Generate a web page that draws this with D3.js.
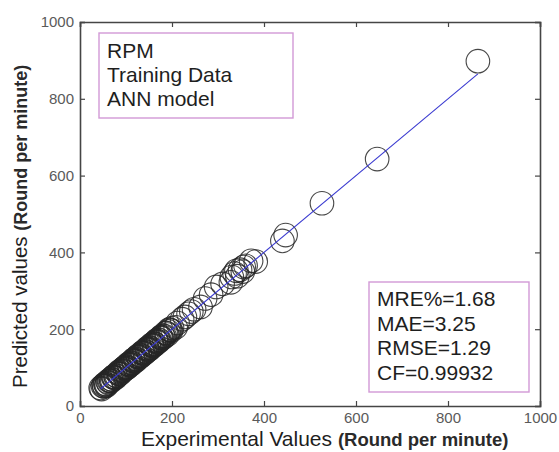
<!DOCTYPE html>
<html>
<head>
<meta charset="utf-8">
<script src="https://cdn.jsdelivr.net/npm/d3@7"></script>
<style>
  html, body { margin: 0; padding: 0; background: #fff; }
  svg { display: block; font-family: "Liberation Sans", Arial, sans-serif; }
</style>
</head>
<body>
<svg id="chart" width="559" height="452"></svg>
<script>
// Experimental vs. ANN-predicted speed (round per minute), training set
const experimental = [
  45, 47, 50, 53, 55, 58, 60, 62, 65, 67,
  70, 72, 75, 77, 80, 82, 85, 88, 90, 93,
  95, 98, 100, 103, 105, 108, 110, 113, 115, 118,
  120, 123, 125, 128, 130, 133, 135, 138, 140, 143,
  145, 148, 150, 153, 155, 158, 160, 163, 165, 168,
  170, 173, 175, 178, 180, 184, 188, 192, 196, 200,
  208, 222, 236, 248, 262, 272, 285, 296, 310, 328,
  336, 342, 348, 354, 360, 372, 382, 440, 447, 526,
  646, 865,
  52, 57, 63, 68, 73, 78, 84, 87, 92, 97,
  101, 106, 111, 116, 121, 126, 131, 136, 141, 146,
  151, 156, 161, 166, 171, 176, 182, 186, 190, 194,
  198, 212, 228, 242, 330, 340, 356
];
const predicted = [
  47, 44, 52, 51, 58, 56, 63, 60, 66, 70,
  68, 75, 73, 80, 78, 85, 83, 90, 93, 91,
  98, 96, 103, 100, 108, 106, 113, 111, 118, 116,
  123, 121, 128, 126, 133, 131, 138, 136, 143, 141,
  148, 146, 153, 151, 158, 156, 163, 161, 168, 166,
  173, 171, 178, 176, 183, 182, 190, 194, 198, 203,
  205, 226, 240, 252, 258, 280, 290, 310, 318, 322,
  345, 338, 355, 350, 365, 378, 376, 430, 445, 528,
  643, 898,
  55, 53, 66, 65, 76, 74, 88, 84, 95, 100,
  99, 110, 108, 120, 118, 130, 128, 140, 138, 150,
  148, 160, 158, 170, 168, 180, 179, 190, 186, 199,
  196, 216, 232, 246, 336, 352, 362
];
const xTicks = [0, 200, 400, 600, 800, 1000];
const yTicks = [0, 200, 400, 600, 800, 1000];
const infoLines = ["RPM", "Training Data", "ANN model"];
const statLines = ["MRE%=1.68", "MAE=3.25", "RMSE=1.29", "CF=0.99932"];

const svg = d3.select("#chart");
const plotL = 80, plotR = 540, plotT = 22, plotB = 406;

const x = d3.scaleLinear().domain([0, 1000]).range([plotL, plotR]);
const y = d3.scaleLinear().domain([0, 1000]).range([plotB, plotT]);

const axisColor = "#454545";
const tickColor = "#5a5a5a";

// axes (ticks point inward, box on all four sides)
const gx = svg.append("g").attr("transform", `translate(0,${plotB})`)
  .call(d3.axisBottom(x).tickValues(xTicks).tickSize(-5).tickPadding(6).tickFormat(d3.format("d")));
const gy = svg.append("g").attr("transform", `translate(${plotL},0)`)
  .call(d3.axisLeft(y).tickValues(yTicks).tickSize(-5).tickPadding(6).tickFormat(d3.format("d")));
const gt = svg.append("g").attr("transform", `translate(0,${plotT})`)
  .call(d3.axisTop(x).tickValues(xTicks).tickSize(-5).tickFormat(""));
const gr = svg.append("g").attr("transform", `translate(${plotR},0)`)
  .call(d3.axisRight(y).tickValues(yTicks).tickSize(-5).tickFormat(""));

[gx, gy, gt, gr].forEach(g => {
  g.select(".domain").attr("stroke", axisColor).attr("stroke-width", 1.6);
  g.selectAll(".tick line").attr("stroke", axisColor).attr("stroke-width", 1.2);
  g.selectAll(".tick text").attr("fill", tickColor)
    .style("font-size", "15px").style("font-family", "'Liberation Sans', Arial, sans-serif");
});

// data points
const pts = d3.zip(experimental, predicted);
svg.append("g").selectAll("circle").data(pts).join("circle")
  .attr("cx", d => x(d[0])).attr("cy", d => y(d[1]))
  .attr("r", 11.8)
  .attr("fill", "none")
  .attr("stroke", "#262626")
  .attr("stroke-width", 1.1)
  .attr("stroke-opacity", 0.85);

// ideal line y = x over the experimental range
const ext = d3.extent(experimental);
svg.append("line")
  .attr("x1", x(ext[0])).attr("y1", y(ext[0]))
  .attr("x2", x(ext[1])).attr("y2", y(ext[1]))
  .attr("stroke", "#3a3ad0").attr("stroke-width", 1.1);

// text boxes
const boxColor = "#d299d6";
svg.append("rect").attr("x", 99).attr("y", 33).attr("width", 194).attr("height", 85)
  .attr("fill", "#fff").attr("stroke", boxColor).attr("stroke-width", 1.4);
svg.append("g").selectAll("text").data(infoLines).join("text")
  .attr("x", 107).attr("y", (d, i) => 58 + i * 24)
  .attr("fill", "#1e1e1e").style("font-size", "21px").text(d => d);

svg.append("rect").attr("x", 369).attr("y", 282).attr("width", 160).attr("height", 110)
  .attr("fill", "#fff").attr("stroke", boxColor).attr("stroke-width", 1.4);
svg.append("g").selectAll("text").data(statLines).join("text")
  .attr("x", 377).attr("y", (d, i) => 306 + i * 24.7)
  .attr("fill", "#1e1e1e").style("font-size", "21px").text(d => d);

// axis titles
const xt = svg.append("text").attr("x", 141).attr("y", 446).attr("fill", "#1e1e1e");
xt.append("tspan").style("font-size", "21px").text("Experimental Values ");
xt.append("tspan").style("font-size", "18.5px").style("font-weight", "bold").attr("fill", "#2a2a2a").text("(Round per minute)");

const yt = svg.append("text").attr("transform", "translate(27,388) rotate(-90)").attr("fill", "#1e1e1e");
yt.append("tspan").style("font-size", "20.5px").text("Predicted values ");
yt.append("tspan").style("font-size", "18px").style("font-weight", "bold").attr("fill", "#2a2a2a").text("(Round per minute)");
</script>
</body>
</html>
